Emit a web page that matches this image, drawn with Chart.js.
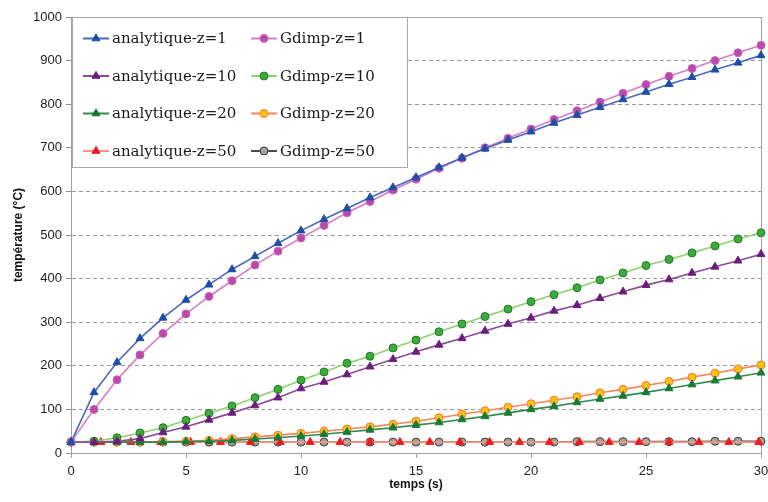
<!DOCTYPE html>
<html>
<head>
<meta charset="utf-8">
<script src="https://cdn.jsdelivr.net/npm/chart.js@4.4.1/dist/chart.umd.min.js"></script>
<style>
html, body { margin: 0; padding: 0; background: #fff; }
#wrap { width: 768px; height: 502px; }
</style>
</head>
<body>
<div id="wrap"><canvas id="tempChart" width="768" height="502"></canvas></div>
<script>
// temps (s)
const times = [0, 1, 2, 3, 4, 5, 6, 7, 8, 9, 10, 11, 12, 13, 14, 15, 16, 17, 18, 19, 20,
    21, 22, 23, 24, 25, 26, 27, 28, 29, 30];
// the z=50 analytic curve is sampled on another time step
const timesZ50 = [0, 1.3, 2.6, 3.9, 5.2, 6.5, 7.8, 9.1, 10.4, 11.7, 13, 14.3, 15.6, 16.9,
    18.2, 19.5, 20.8, 22.1, 23.4, 24.7, 26, 27.3, 28.6, 29.9];
const yTicks = [0, 100, 200, 300, 400, 500, 600, 700, 800, 900, 1000];

const analytiqueZ1 = [25, 139, 208, 263, 310, 351, 386, 421, 451, 481, 510, 536, 561, 586, 609, 632,
    655, 677, 698, 718, 737, 757, 775, 793, 811, 828, 846, 862, 879, 895, 912];
const gdimpZ1 = [25, 100, 168, 225, 274, 319, 359, 395, 431, 463, 493, 522, 551, 577, 603, 628,
    653, 676, 700, 722, 743, 765, 785, 805, 825, 845, 864, 882, 900, 918, 935];
const analytiqueZ10 = [25, 25, 27, 33, 47, 60, 76, 92, 109, 127, 148, 163, 180, 198, 215, 232,
    248, 263, 280, 296, 310, 326, 339, 355, 370, 385, 398, 413, 427, 441, 456];
const gdimpZ10 = [25, 27, 35, 46, 58, 75, 91, 108, 127, 146, 167, 186, 206, 222, 241, 259,
    278, 296, 313, 330, 347, 363, 379, 397, 413, 430, 444, 459, 475, 491, 505];
const analytiqueZ20 = [25, 25, 25, 25, 25, 26, 27, 29, 32, 35, 39, 43, 48, 53, 58, 64,
    70, 77, 84, 92, 100, 107, 116, 124, 131, 139, 148, 157, 166, 175, 184];
const gdimpZ20 = [25, 25, 25, 25, 26, 27, 29, 33, 37, 41, 45, 50, 55, 60, 66, 73,
    81, 89, 97, 105, 113, 121, 129, 138, 146, 155, 164, 174, 183, 193, 202];
const analytiqueZ50 = [25, 25, 25, 25, 25, 25, 25, 25, 25, 25, 25, 25, 25, 25,
    25, 25, 25, 25, 25, 25, 25, 25, 25, 25];
const gdimpZ50 = [25, 25, 25, 25, 25, 25, 25, 25, 25, 25, 25, 25, 25, 25, 25, 25,
    25, 25, 25, 25, 25, 25, 26, 26, 26, 26, 26, 26, 27, 27, 27];

function toPoints(xs, ys) {
    const pts = [];
    for (var i = 0; i < ys.length; i++) {
        pts.push({ x: xs[i], y: ys[i] });
    }
    return pts;
}

function makeSet(label, xs, ys, line, fill, border, style) {
    return {
        label: label,
        data: toPoints(xs, ys),
        borderColor: line,
        backgroundColor: fill,
        borderWidth: 1.6,
        pointStyle: style,
        pointRadius: style == 'triangle' ? 4.6 : 4,
        pointBackgroundColor: fill,
        pointBorderColor: border,
        pointBorderWidth: 1,
        tension: 0,
        clip: false
    };
}

// legend drawn inside the plot, two columns like the original
const boxLegend = {
    id: 'boxLegend',
    afterDraw(chart) {
        const ctx = chart.ctx;
        ctx.save();
        ctx.fillStyle = '#fff';
        ctx.fillRect(72, 17, 335, 150);
        ctx.strokeStyle = '#a6a6a6';
        ctx.lineWidth = 1;
        ctx.strokeRect(72.5, 17.5, 335, 150);
        ctx.font = '15px "DejaVu Serif"';
        ctx.textBaseline = 'middle';
        chart.data.datasets.forEach(function(ds, i) {
            const col = i % 2;
            const row = Math.floor(i / 2);
            const lx = col == 0 ? 83 : 251;
            const cy = 38.5 + row * 37.5;
            ctx.strokeStyle = ds.borderColor;
            ctx.lineWidth = 2;
            ctx.beginPath();
            ctx.moveTo(lx, cy);
            ctx.lineTo(lx + 26, cy);
            ctx.stroke();
            ctx.fillStyle = ds.pointBackgroundColor;
            ctx.strokeStyle = ds.pointBorderColor;
            ctx.lineWidth = 1;
            Chart.helpers.drawPoint(ctx, { pointStyle: ds.pointStyle, radius: ds.pointRadius, borderWidth: 1, rotation: 0 }, lx + 13, cy);
            ctx.fillStyle = '#1a1a1a';
            ctx.fillText(ds.label, col == 0 ? 112 : 280, cy + 1);
        });
        ctx.restore();
    }
};

// grey frame round the plot area
const plotFrame = {
    id: 'plotFrame',
    beforeDatasetsDraw(chart) {
        const a = chart.chartArea;
        const ctx = chart.ctx;
        ctx.save();
        ctx.strokeStyle = '#a0a0a0';
        ctx.lineWidth = 1;
        ctx.strokeRect(Math.round(a.left) + 0.5, Math.round(a.top) + 0.5, a.right - a.left, a.bottom - a.top);
        ctx.restore();
    }
};

const datasets = [
    makeSet('analytique-z=1', times, analytiqueZ1, '#4a68bf', '#1f4ea6', '#1f4ea6', 'triangle'),
    makeSet('Gdimp-z=1', times, gdimpZ1, '#d77cc8', '#b94aa9', '#c864b8', 'circle'),
    makeSet('analytique-z=10', times, analytiqueZ10, '#8a4a98', '#6b1d7b', '#6b1d7b', 'triangle'),
    makeSet('Gdimp-z=10', times, gdimpZ10, '#8fd26b', '#3daa3d', '#237a23', 'circle'),
    makeSet('analytique-z=20', times, analytiqueZ20, '#2f8a4a', '#187a36', '#187a36', 'triangle'),
    makeSet('Gdimp-z=20', times, gdimpZ20, '#f3865a', '#ffc20e', '#f2783c', 'circle'),
    makeSet('analytique-z=50', timesZ50, analytiqueZ50, '#f59683', '#ee1c1c', '#ee1c1c', 'triangle'),
    makeSet('Gdimp-z=50', times, gdimpZ50, '#4d4d4d', '#a3a3a3', '#3a3a3a', 'circle')
];

chart1 = new Chart(document.getElementById('tempChart').getContext('2d'), {
    type: 'line',
    data: { datasets: datasets },
    plugins: [plotFrame, boxLegend],
    options: {
        responsive: false,
        animation: false,
        devicePixelRatio: 1,
        layout: { padding: { left: 0, right: 7, top: 17, bottom: 0 } },
        plugins: {
            legend: { display: false },
            tooltip: { enabled: false }
        },
        scales: {
            x: {
                type: 'linear',
                min: 0,
                max: 30,
                afterFit: function(scale) {
                    scale.height = 49;
                    scale.paddingLeft = 0;
                    scale.paddingRight = 0;
                },
                ticks: {
                    stepSize: 5,
                    padding: 6,
                    color: '#222',
                    font: { family: '"Liberation Sans", Arial', size: 13 }
                },
                grid: { drawOnChartArea: false, tickLength: 5, color: '#a0a0a0' },
                border: { display: true, color: '#a0a0a0' },
                title: {
                    display: true,
                    text: 'temps (s)',
                    color: '#111',
                    font: { family: '"Liberation Sans", Arial', size: 12, weight: 'bold' },
                    padding: { top: 0, bottom: 10 }
                }
            },
            y: {
                min: 0,
                max: 1000,
                afterFit: function(scale) {
                    scale.width = 71;
                    scale.paddingTop = 0;
                    scale.paddingBottom = 0;
                },
                afterBuildTicks: function(scale) {
                    scale.ticks = yTicks.map(function(v) { return { value: v }; });
                },
                ticks: {
                    padding: 4,
                    color: '#222',
                    font: { family: '"Liberation Sans", Arial', size: 13 },
                    callback: function(value) { return String(value); }
                },
                grid: {
                    tickLength: 5,
                    tickColor: '#8a8a8a',
                    lineWidth: 1,
                    color: function(ctx) {
                        if (!ctx.tick || ctx.tick.value == 0 || ctx.tick.value == 1000) return 'rgba(0,0,0,0)';
                        return '#9a9a9a';
                    }
                },
                border: { display: true, color: '#a0a0a0', dash: [4, 3] },
                title: {
                    display: true,
                    text: 'température (°C)',
                    color: '#111',
                    font: { family: '"Liberation Sans", Arial', size: 12, weight: 'bold' },
                    padding: { top: 11, bottom: 0 }
                }
            }
        }
    }
});
</script>
</body>
</html>
